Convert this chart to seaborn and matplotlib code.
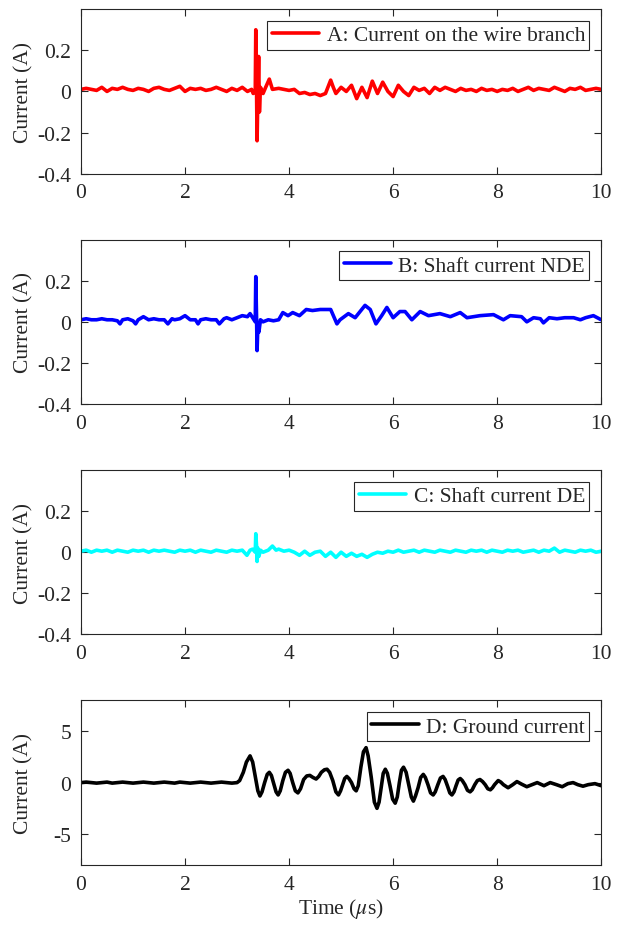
import matplotlib
matplotlib.use('Agg')
import matplotlib.pyplot as plt
import numpy as np
import pandas as pd
import seaborn as sns

# --- data (time in us, current in A) ---
t_a = [0.0, 0.1, 0.2, 0.3, 0.4, 0.5, 0.6, 0.7, 0.8, 0.9, 1.0, 1.1, 1.2, 1.3, 1.4, 1.5, 1.6, 1.7, 1.8, 1.9,
       2.0, 2.1, 2.2, 2.3, 2.4, 2.5, 2.6, 2.7, 2.8, 2.9, 3.0, 3.1, 3.2, 3.28, 3.31,
       3.35, 3.36, 3.375, 3.385, 3.40, 3.415, 3.43, 3.45, 3.5, 3.55, 3.62, 3.68,
       3.8, 3.9, 4.0, 4.1, 4.2, 4.3, 4.4, 4.5, 4.6, 4.7, 4.8, 4.85, 4.9, 5.0, 5.1, 5.2, 5.3, 5.4, 5.5,
       5.6, 5.7, 5.8, 5.9, 6.0, 6.1, 6.2, 6.3, 6.4, 6.5, 6.6, 6.7, 6.8, 6.9, 7.0, 7.1, 7.2, 7.3, 7.4,
       7.5, 7.6, 7.7, 7.8, 7.9, 8.0, 8.1, 8.2, 8.3, 8.4, 8.5, 8.6, 8.7, 8.8, 8.9, 9.0, 9.1, 9.2, 9.3,
       9.4, 9.5, 9.6, 9.7, 9.8, 9.9, 10.0]
i_a = [0.01, 0.015, 0.01, 0.005, 0.02, 0.0, 0.015, 0.01, 0.02, 0.01, 0.005, 0.015, 0.01, 0.0, 0.015, 0.02, 0.01, 0.005, 0.015, 0.025,
       0.0, 0.015, 0.01, 0.015, 0.005, 0.01, 0.02, 0.01, 0.0, 0.015, 0.005, 0.02, 0.0, 0.01, -0.01,
       0.0, 0.30, 0.0, -0.24, -0.02, 0.17, -0.10, 0.02, -0.01, 0.02, 0.06, 0.01,
       0.015, 0.01, 0.005, 0.01, -0.01, -0.005, -0.015, -0.01, -0.02, -0.01, 0.055, 0.02, -0.01, 0.02, 0.0, 0.03, -0.035, 0.02, -0.03,
       0.05, -0.01, 0.045, 0.0, -0.025, 0.03, 0.0, -0.02, 0.02, 0.005, 0.015, -0.01, 0.02, 0.005, 0.02, 0.01, 0.0, 0.015, 0.005,
       0.01, 0.0, 0.015, 0.005, 0.01, 0.0, 0.01, 0.005, 0.015, 0.0, 0.01, 0.02, 0.005, 0.015, 0.01, 0.005, 0.02, 0.01, 0.0,
       0.015, 0.01, 0.02, 0.005, 0.01, 0.015, 0.01]

t_b = [0.0, 0.1, 0.2, 0.3, 0.4, 0.5, 0.6, 0.7, 0.75, 0.8, 0.9, 1.0, 1.05, 1.1, 1.2, 1.3, 1.4, 1.5, 1.6, 1.67, 1.75,
       1.8, 1.9, 2.0, 2.1, 2.2, 2.25, 2.3, 2.4, 2.5, 2.6, 2.66, 2.75, 2.8, 2.9, 3.0, 3.1, 3.2, 3.25, 3.3,
       3.35, 3.36, 3.375, 3.385, 3.40, 3.42, 3.45, 3.5, 3.6, 3.7, 3.8, 3.88, 3.98, 4.07, 4.2, 4.33, 4.45,
       4.6, 4.8, 4.92, 4.98, 5.14, 5.27, 5.46, 5.56, 5.67, 5.78, 5.88, 6.0, 6.13, 6.23, 6.36, 6.52, 6.68,
       6.9, 7.1, 7.29, 7.42, 7.67, 7.93, 8.12, 8.25, 8.47, 8.57, 8.7, 8.83, 8.89, 9.0, 9.15, 9.3, 9.47,
       9.6, 9.7, 9.85, 10.0]
i_b = [0.01, 0.015, 0.01, 0.01, 0.015, 0.01, 0.01, 0.005, -0.01, 0.01, 0.015, 0.005, -0.01, 0.01, 0.025, 0.01, 0.015, 0.01, 0.01, -0.01, 0.015,
       0.01, 0.015, 0.03, 0.01, 0.01, -0.01, 0.01, 0.015, 0.01, 0.01, -0.01, 0.015, 0.02, 0.01, 0.02, 0.03, 0.025, 0.04, 0.02,
       0.0, 0.22, 0.02, -0.14, -0.02, -0.05, 0.01, 0.0, 0.01, 0.005, 0.01, 0.045, 0.03, 0.045, 0.03, 0.06, 0.055,
       0.06, 0.06, -0.01, 0.01, 0.04, 0.02, 0.08, 0.06, -0.01, 0.03, 0.07, 0.02, 0.05, 0.05, 0.01, 0.05, 0.03,
       0.04, 0.025, 0.045, 0.02, 0.03, 0.035, 0.01, 0.03, 0.025, 0.0, 0.02, 0.015, -0.005, 0.02, 0.015, 0.02, 0.02,
       0.01, 0.02, 0.03, 0.01]

t_c = [0.0, 0.1, 0.2, 0.3, 0.4, 0.5, 0.6, 0.7, 0.8, 0.9, 1.0, 1.1, 1.2, 1.3, 1.4, 1.5, 1.6, 1.7, 1.8, 1.9,
       2.0, 2.1, 2.2, 2.3, 2.4, 2.5, 2.6, 2.7, 2.8, 2.9, 3.0, 3.1, 3.19, 3.25, 3.3,
       3.35, 3.36, 3.375, 3.385, 3.40, 3.42, 3.45, 3.5, 3.6, 3.68, 3.75, 3.8, 3.9, 4.0, 4.1, 4.2, 4.3, 4.4,
       4.5, 4.6, 4.7, 4.8, 4.9, 5.0, 5.1, 5.2, 5.3, 5.4, 5.5, 5.6, 5.7, 5.8, 5.9, 6.0, 6.1, 6.2, 6.3, 6.4,
       6.5, 6.6, 6.7, 6.8, 6.9, 7.0, 7.1, 7.2, 7.3, 7.4, 7.5, 7.6, 7.7, 7.8, 7.9, 8.0, 8.1, 8.2, 8.3, 8.4,
       8.5, 8.6, 8.7, 8.8, 8.9, 9.0, 9.1, 9.2, 9.3, 9.4, 9.5, 9.6, 9.7, 9.8, 9.9, 10.0]
i_c = [0.005, 0.01, 0.0, 0.01, 0.005, 0.01, 0.0, 0.01, 0.005, 0.0, 0.01, 0.005, 0.01, 0.0, 0.01, 0.005, 0.01, 0.005, 0.0, 0.01,
       0.005, 0.01, 0.0, 0.01, 0.005, 0.0, 0.01, 0.005, 0.0, 0.01, 0.005, 0.01, -0.015, 0.01, 0.015,
       0.0, 0.09, 0.03, -0.045, 0.02, -0.02, 0.01, 0.0, 0.01, 0.03, 0.01, 0.015, 0.005, 0.01, 0.0, -0.015, 0.005, -0.015,
       0.0, 0.005, -0.02, 0.0, -0.025, 0.0, -0.02, -0.005, -0.02, -0.01, -0.025, -0.01, 0.0, -0.005, 0.005, 0.0, 0.01, 0.0, 0.005, 0.01,
       0.0, 0.01, 0.005, 0.0, 0.01, 0.005, 0.0, 0.01, 0.005, 0.0, 0.01, 0.005, 0.01, 0.0, 0.01, 0.005, 0.0, 0.01, 0.005, 0.01,
       0.0, 0.005, 0.01, 0.0, 0.01, 0.005, 0.02, 0.0, 0.01, 0.005, 0.0, 0.01, 0.005, 0.01, 0.0, 0.005]

t_d = [0.0, 0.1, 0.2, 0.3, 0.4, 0.5, 0.6, 0.7, 0.8, 0.9, 1.0, 1.1, 1.2, 1.3, 1.4, 1.5, 1.6, 1.7, 1.8, 1.9,
       2.0, 2.1, 2.2, 2.3, 2.4, 2.5, 2.6, 2.7, 2.8, 2.9,
       3.0, 3.05, 3.12, 3.18, 3.25, 3.30, 3.35, 3.40, 3.44, 3.48, 3.53, 3.58, 3.62, 3.66, 3.70,
       3.75, 3.79, 3.83, 3.88, 3.93, 3.98, 4.02, 4.07, 4.12, 4.17, 4.22, 4.28, 4.34, 4.40, 4.46,
       4.52, 4.57, 4.62, 4.68, 4.73, 4.78, 4.84, 4.90, 4.95, 4.99, 5.03, 5.07, 5.11, 5.15, 5.20,
       5.25, 5.29, 5.33, 5.38, 5.43, 5.48, 5.52, 5.58, 5.64, 5.69, 5.73, 5.77, 5.81, 5.85, 5.89,
       5.94, 5.99, 6.04, 6.08, 6.12, 6.16, 6.20, 6.25, 6.30, 6.35, 6.39, 6.43, 6.48, 6.53, 6.58,
       6.62, 6.67, 6.72, 6.77, 6.81, 6.86, 6.91, 6.96, 7.00, 7.05, 7.09, 7.13, 7.17, 7.21, 7.25,
       7.29, 7.33, 7.38, 7.43, 7.48, 7.52, 7.57, 7.62, 7.67, 7.72, 7.77, 7.82, 7.87, 7.91, 7.95,
       8.02, 8.07, 8.12, 8.21, 8.30, 8.38, 8.47, 8.57, 8.67, 8.77, 8.90, 9.02, 9.14, 9.25, 9.36,
       9.46, 9.55, 9.65, 9.75, 9.88, 10.0]
i_d = [0.0, 0.05, 0.0, -0.05, 0.0, 0.05, -0.05, 0.0, 0.05, 0.0, -0.05, 0.0, 0.05, 0.0, -0.05, 0.0, 0.05, 0.0, -0.05, 0.05,
       0.0, -0.05, 0.0, 0.05, 0.0, -0.05, 0.0, 0.05, 0.0, -0.05,
       0.0, 0.2, 1.0, 2.0, 2.6, 2.0, 0.6, -0.8, -1.3, -0.9, 0.0, 0.8, 1.0, 0.7, 0.0,
       -0.9, -1.2, -0.8, 0.2, 1.0, 1.2, 0.9, 0.0, -0.8, -1.0, -0.6, 0.3, 0.65, 0.7, 0.5,
       0.35, 0.6, 1.0, 1.25, 1.3, 1.0, 0.2, -0.9, -1.2, -0.8, -0.2, 0.4, 0.6, 0.4, 0.0,
       -0.6, -0.8, -0.3, 1.5, 3.0, 3.4, 2.6, 0.5, -1.9, -2.5, -1.9, -0.5, 0.9, 1.3, 0.9,
       -0.3, -1.6, -2.0, -1.4, 0.0, 1.2, 1.5, 1.0, -0.2, -1.4, -1.8, -1.3, -0.5, 0.5, 0.8,
       0.5, -0.2, -1.0, -1.2, -0.9, -0.2, 0.45, 0.6, 0.3, -0.4, -1.0, -1.2, -0.9, -0.3, 0.25,
       0.4, 0.2, -0.2, -0.75, -0.9, -0.7, -0.2, 0.2, 0.3, 0.1, -0.2, -0.6, -0.7, -0.5, -0.2,
       0.2, 0.05, -0.2, -0.5, -0.2, 0.1, -0.15, -0.4, -0.2, 0.0, -0.3, 0.0, -0.2, -0.4, -0.1,
       0.0, -0.2, -0.35, -0.2, -0.1, -0.3]

labels = ['A: Current on the wire branch', 'B: Shaft current NDE',
          'C: Shaft current DE', 'D: Ground current']
colors = ['#ff0000', '#0000ff', '#00ffff', '#000000']

x_ticks = [0, 2, 4, 6, 8, 10]
y_ticks_small = [-0.4, -0.2, 0, 0.2]
y_ticklabels_small = ['-0.4', '-0.2', '0', '0.2']
y_ticks_big = [-5, 0, 5]
y_ticklabels_big = ['-5', '0', '5']

sns.set_style('ticks')
plt.rcParams['font.family'] = ['Liberation Serif', 'DejaVu Serif']
plt.rcParams['mathtext.fontset'] = 'stix'
plt.rcParams['axes.unicode_minus'] = False
plt.rcParams['font.size'] = 15.5

fig = plt.figure(figsize=(6.23, 9.29), dpi=100)

series = [(t_a, i_a), (t_b, i_b), (t_c, i_c), (t_d, i_d)]
bottoms = [0.812, 0.564, 0.316, 0.068]
height = 0.177

for k, (t, cur) in enumerate(series):
    ax = fig.add_axes([0.130, bottoms[k], 0.835, height])
    df = pd.DataFrame({'t': t, 'i': cur})
    sns.lineplot(data=df, x='t', y='i', ax=ax, color=colors[k], linewidth=2.6,
                 estimator=None, sort=False, label=labels[k])
    ax.set_xlim(0, 10)
    ax.set_xticks(x_ticks)
    ax.set_xticklabels([str(v) for v in x_ticks])
    if k < 3:
        ax.set_ylim(-0.4, 0.4)
        ax.set_yticks(y_ticks_small)
        ax.set_yticklabels(y_ticklabels_small)
        ax.set_xlabel('')
    else:
        ax.set_ylim(-8, 8)
        ax.set_yticks(y_ticks_big)
        ax.set_yticklabels(y_ticklabels_big)
        ax.set_xlabel(r'Time ($\mu$s)', labelpad=2)
    ax.set_ylabel('Current (A)')
    ax.yaxis.set_label_coords(-0.092, 0.5)
    for s in ax.spines.values():
        s.set_visible(True)
        s.set_color('#262626')
        s.set_linewidth(0.8)
    ax.tick_params(direction='in', length=5, width=0.8, color='#262626',
                   top=True, right=True, pad=7, labelcolor='#262626')
    leg = ax.legend(loc='upper right', frameon=True, fancybox=False,
                    borderpad=0.2, borderaxespad=0.55, handlelength=2.2,
                    handletextpad=0.35, fontsize=15.5)
    leg.get_frame().set_edgecolor('#262626')
    leg.get_frame().set_linewidth(0.8)
    leg.get_frame().set_alpha(1)

fig.savefig('out.png', dpi=100)
